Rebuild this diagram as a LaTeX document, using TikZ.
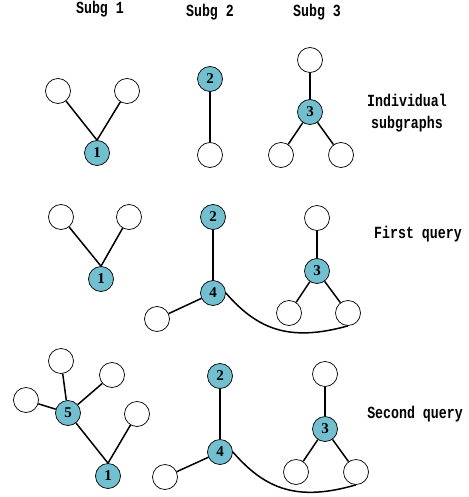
\documentclass[tikz,border=0pt]{standalone}
\usepackage{fontspec}
\newfontfamily\labfont[FakeStretch=0.78]{Liberation Mono}
\newfontfamily\numfont{Liberation Serif}
\definecolor{nodeblue}{RGB}{114,191,207}
\begin{document}
\begin{tikzpicture}[x=1pt,y=-1pt,
  wn/.style={circle,draw=black,fill=white,minimum size=25pt,inner sep=0pt,line width=0.7pt},
  bn/.style={circle,draw=black,fill=nodeblue,minimum size=25pt,inner sep=0pt,line width=0.7pt,font=\numfont\bfseries\fontsize{15}{15}\selectfont},
  edge/.style={line width=1.5pt},
  lab/.style={font=\labfont\bfseries\fontsize{17}{22}\selectfont,align=center,inner sep=0pt}]
\useasboundingbox (0,0) rectangle (468,497);
% column labels
\node[lab] (t1) at (100,9) {Subg 1};
\node[lab] (t2) at (210,12) {Subg 2};
\node[lab] (t3) at (317,12) {Subg 3};
\node[lab] (r1) at (407,113) {Individual\\subgraphs};
\node[lab] (r2) at (418,234) {First query};
\node[lab] (r3) at (415,414) {Second query};
% ---- Row 1
\node[wn] (a1l) at (58,91) {};
\node[wn] (a1r) at (127,91) {};
\node[bn] (a1) at (97,153) {1};
\draw[edge] (a1l) -- (a1.north);
\draw[edge] (a1r) -- (a1.north);
\node[bn] (a2) at (210,79) {2};
\node[wn] (a2b) at (210,155) {};
\draw[edge] (a2) -- (a2b);
\node[wn] (a3t) at (310,60) {};
\node[bn] (a3) at (310,112) {3};
\node[wn] (a3l) at (281,155) {};
\node[wn] (a3r) at (341,155) {};
\draw[edge] (a3t) -- (a3);
\draw[edge] (a3) -- (a3l);
\draw[edge] (a3) -- (a3r);
% ---- Row 2
\node[wn] (b1l) at (61,217) {};
\node[wn] (b1r) at (129,217) {};
\node[bn] (b1) at (101,279) {1};
\draw[edge] (b1l) -- (b1.north);
\draw[edge] (b1r) -- (b1.north);
\node[bn] (b2) at (213,217) {2};
\node[bn] (b4) at (213,293) {4};
\node[wn] (b4l) at (157,319) {};
\draw[edge] (b2) -- (b4);
\draw[edge] (b4) -- (b4l);
\node[wn] (b3t) at (317,218) {};
\node[bn] (b3) at (317,271) {3};
\node[wn] (b3l) at (289,313) {};
\node[wn] (b3r) at (348,313) {};
\draw[edge] (b3t) -- (b3);
\draw[edge] (b3) -- (b3l);
\draw[edge] (b3) -- (b3r);
\draw[edge] (b4.east) .. controls (258,330) and (290,342) .. (b3r.south);
% ---- Row 3
\node[bn] (c5) at (68,413) {5};
\node[wn] (c5t) at (61,361) {};
\node[wn] (c5ur) at (112,375) {};
\node[wn] (c5l) at (26,400) {};
\node[wn] (c1r) at (137,414) {};
\node[bn] (c1) at (108,476) {1};
\draw[edge] (c5t) -- (c5);
\draw[edge] (c5ur) -- (c5);
\draw[edge] (c5l) -- (c5);
\draw[edge] (c5) -- (c1.north);
\draw[edge] (c1r) -- (c1.north);
\node[bn] (c2) at (220,376) {2};
\node[bn] (c4) at (220,452) {4};
\node[wn] (c4l) at (165,477) {};
\draw[edge] (c2) -- (c4);
\draw[edge] (c4) -- (c4l);
\node[wn] (c3t) at (325,374) {};
\node[bn] (c3) at (325,429) {3};
\node[wn] (c3l) at (296,472) {};
\node[wn] (c3r) at (356,472) {};
\draw[edge] (c3t) -- (c3);
\draw[edge] (c3) -- (c3l);
\draw[edge] (c3) -- (c3r);
\draw[edge] (c4.east) .. controls (265,489) and (297,502) .. (c3r.south);
\end{tikzpicture}
\end{document}
